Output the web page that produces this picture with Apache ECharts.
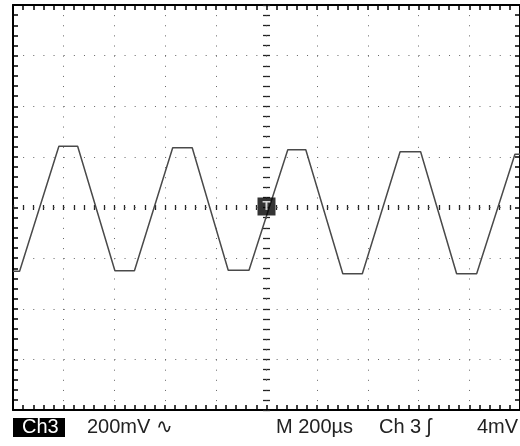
<!DOCTYPE html>
<html>
<head>
<meta charset="utf-8">
<script src="https://cdn.jsdelivr.net/npm/echarts@6/dist/echarts.min.js"></script>
<style>
html,body{margin:0;padding:0;background:#fff;}
#c{width:520px;height:446px;}
</style>
</head>
<body>
<div id="c"></div>
<script>
// time relative to trigger (µs), 200 µs/div
var timeUs = [-1000, -974, -819, -745, -598, -521, -370, -293, -151, -69, 84, 155, 301, 378, 527, 608, 750, 829, 980, 1000];
// channel 3 voltage (mV), 200 mV/div
var ch3mV = [-252, -252, 242, 242, -250, -250, 236, 236, -248, -248, 228, 228, -262, -262, 220, 220, -262, -262, 210, 210];
var trigger = [0, 4];
var timeRange = [-1000, 1000];
var voltRange = [-800, 800];
var statusLabels = ['Ch3', '200mV \u223F', 'M 200\u00B5s', 'Ch 3 \u0283', '4mV'];

var data = timeUs.map(function (t, i) { return [t, ch3mV[i]]; });
var FONT = '20px "Liberation Sans", Arial, sans-serif';

function borderAxis(base, pos, extra) {
  return Object.assign({
    type: 'value', position: pos,
    axisLine: { show: true, onZero: false, lineStyle: { color: '#000', width: 2 } },
    axisTick: { show: true, inside: true, length: 5, lineStyle: { color: '#000', width: 1.5 } },
    minorTick: { show: true, splitNumber: 5, length: 5, lineStyle: { color: '#000', width: 1.5 } },
    axisLabel: { show: false },
    splitLine: { show: false }
  }, base, extra || {});
}
function centerAxis(base, pos, len) {
  return Object.assign({
    type: 'value', position: pos,
    axisLine: { show: false, onZero: true, onZeroAxisIndex: 0 },
    axisTick: { show: true, inside: true, length: len, lineStyle: { color: '#222', width: 1.3 } },
    minorTick: { show: true, splitNumber: 5, length: len, lineStyle: { color: '#222', width: 1.3 } },
    axisLabel: { show: false },
    splitLine: { show: false }
  }, base);
}

var xBase = { min: timeRange[0], max: timeRange[1], interval: 200 };
var yBase = { min: voltRange[0], max: voltRange[1], interval: 200 };

var chart = echarts.init(document.getElementById('c'), null, { renderer: 'canvas' });
chart.setOption({
  animation: false,
  backgroundColor: '#fff',
  grid: { left: 13, top: 5, right: 0, height: 405, containLabel: false },
  xAxis: [
    borderAxis(xBase, 'bottom', { splitLine: { show: true, lineStyle: { color: '#666', width: 1, type: [1, 9.13] } } }),
    borderAxis(xBase, 'top'),
    centerAxis(xBase, 'bottom', 2.5),
    centerAxis(xBase, 'top', 2.5)
  ],
  yAxis: [
    borderAxis(yBase, 'left', { splitLine: { show: true, lineStyle: { color: '#666', width: 1, type: [1, 9.14] } } }),
    borderAxis(yBase, 'right'),
    centerAxis(yBase, 'left', 3.5),
    centerAxis(yBase, 'right', 3.5)
  ],
  series: [
    {
      type: 'line', xAxisIndex: 0, yAxisIndex: 0, data: data,
      showSymbol: false, symbol: 'none',
      lineStyle: { color: '#4a4a4a', width: 1.5 },
      z: 3
    },
    {
      type: 'scatter', xAxisIndex: 0, yAxisIndex: 0, data: [trigger],
      symbol: 'rect', symbolSize: [18, 18],
      itemStyle: { color: '#000' },
      label: { show: true, position: 'inside', formatter: 'T', color: '#fff', fontSize: 13, fontWeight: 'bold', fontFamily: 'Liberation Sans' },
      z: 5
    }
  ],
  graphic: [
    { type: 'rect', left: 13, top: 418, shape: { width: 52, height: 19 }, style: { fill: '#000' } },
    { type: 'text', left: 22, top: 417, style: { text: statusLabels[0], fill: '#fff', font: FONT } },
    { type: 'text', left: 87, top: 417, style: { text: statusLabels[1], fill: '#222', font: FONT } },
    { type: 'text', left: 276, top: 417, style: { text: statusLabels[2], fill: '#222', font: FONT } },
    { type: 'text', left: 379, top: 417, style: { text: statusLabels[3], fill: '#222', font: FONT } },
    { type: 'text', left: 477, top: 417, style: { text: statusLabels[4], fill: '#222', font: FONT } }
  ]
});
</script>
</body>
</html>
